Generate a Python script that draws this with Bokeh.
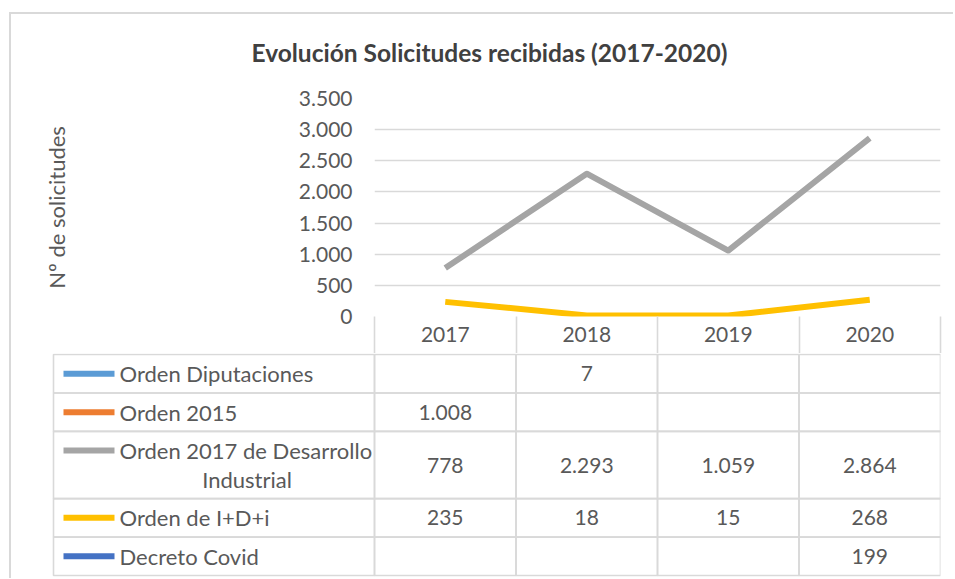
import math
from bokeh.plotting import figure
from bokeh.layouts import column
from bokeh.models import Range1d, FixedTicker
from bokeh.core.properties import value
from bokeh.embed import file_html
from bokeh.resources import INLINE

# ---------------- data ----------------
title_text = "Evolución Solicitudes recibidas (2017-2020)"
y_label = "Nº de solicitudes"
years = ["2017", "2018", "2019", "2020"]
series_names = [
    "Orden Diputaciones",
    "Orden 2015",
    "Orden 2017 de Desarrollo\nIndustrial",
    "Orden de I+D+i",
    "Decreto Covid",
]
orden_diputaciones = [None, 7, None, None]
orden_2015 = [1008, None, None, None]
orden_2017_desarrollo = [778, 2293, 1059, 2864]
orden_idi = [235, 18, 15, 268]
decreto_covid = [None, None, None, 199]
series_values = [orden_diputaciones, orden_2015, orden_2017_desarrollo, orden_idi, decreto_covid]
series_colors = ["#5b9bd5", "#ed7d31", "#a5a5a5", "#ffc000", "#4472c4"]
y_ticks = [0, 500, 1000, 1500, 2000, 2500, 3000, 3500]


def fmt(v):
    return f"{v:,}".replace(",", ".")


# ---------------- style / layout ----------------
FONT = "Lato"
TXT = "#595959"
TITLE_C = "#404040"
GRID_C = "#d9d9d9"
W = 953
LEFT_TOP = 374          # chart frame left (px)
RIGHT = 13
TOP_BORDER = 98
FRAME_H = 218
HEADER_H = 37
TOP_H = TOP_BORDER + FRAME_H + HEADER_H
BOT_H = 225
PX_PER_COL = (W - LEFT_TOP - RIGHT) / len(years)

xs = list(range(len(years)))

# ---------------- chart (with year header as x axis) ----------------
p = figure(width=W, height=TOP_H, x_range=Range1d(-0.5, len(years) - 0.5),
           y_range=Range1d(y_ticks[0], y_ticks[-1]),
           toolbar_location=None, output_backend="svg",
           min_border_left=LEFT_TOP, min_border_right=RIGHT,
           min_border_top=TOP_BORDER, min_border_bottom=HEADER_H,
           border_fill_color=None, background_fill_color=None,
           frame_align=False)
p.outline_line_color = None
p.xgrid.visible = False
p.ygrid.ticker = FixedTicker(ticks=y_ticks)
p.ygrid.grid_line_color = GRID_C
p.ygrid.grid_line_width = 1.3

p.title.text = title_text
p.title.align = "left"
p.title.offset = 251 - LEFT_TOP
p.title.text_font = FONT
p.title.text_font_size = "24.5px"
p.title.text_font_style = "bold"
p.title.text_color = TITLE_C
p.title.standoff = 63

yax = p.yaxis[0]
yax.ticker = FixedTicker(ticks=y_ticks)
yax.major_label_overrides = {t: fmt(t) for t in y_ticks}
yax.axis_line_color = None
yax.major_tick_line_color = None
yax.minor_tick_line_color = None
yax.major_tick_out = 0
yax.major_label_standoff = 22
yax.major_label_text_font = FONT
yax.major_label_text_font_size = "21px"
yax.major_label_text_color = TXT
yax.axis_label = y_label
yax.axis_label_text_font = FONT
yax.axis_label_text_font_size = "22px"
yax.axis_label_text_font_style = "normal"
yax.axis_label_text_color = TXT
yax.axis_label_standoff = 226

xax = p.xaxis[0]
xax.ticker = FixedTicker(ticks=xs, minor_ticks=[i - 0.5 for i in range(len(years) + 1)])
xax.major_label_overrides = {i: y for i, y in enumerate(years)}
xax.axis_line_color = None
xax.major_tick_line_color = None
xax.major_tick_out = 0
xax.major_tick_in = 0
xax.minor_tick_line_color = GRID_C
xax.minor_tick_line_width = 1.6
xax.minor_tick_out = HEADER_H
xax.minor_tick_in = 0
xax.major_label_standoff = 10 - HEADER_H
xax.major_label_text_font = FONT
xax.major_label_text_font_size = "21px"
xax.major_label_text_color = TXT

for vals, col in zip(series_values, series_colors):
    ys = [math.nan if v is None else v for v in vals]
    p.line(xs, ys, line_color=col, line_width=6, line_join="round")

# ---------------- data table body ----------------
LEFT_BOT = 51
TABLE_LEFT_PX = 53
label_w = (LEFT_TOP - TABLE_LEFT_PX) / PX_PER_COL
x_start = -0.5 - (LEFT_TOP - LEFT_BOT) / PX_PER_COL
x_end = -0.5 + (W - RIGHT - LEFT_TOP) / PX_PER_COL

n_lines = [len(s.split("\n")) for s in series_names]
row_h = [1.0 + 0.75 * (n - 1) for n in n_lines]
total_rows = sum(row_h)
ROW_PX = 222 / total_rows
tops = [sum(row_h[:i]) for i in range(len(row_h))]
centers = [tp + h / 2 for tp, h in zip(tops, row_h)]

t = figure(width=W, height=BOT_H, x_range=Range1d(x_start, x_end),
           y_range=Range1d(total_rows + 3 / ROW_PX, -1 / ROW_PX), x_axis_location=None,
           y_axis_location=None, toolbar_location=None, output_backend="svg",
           min_border_left=LEFT_BOT, min_border_right=RIGHT,
           min_border_top=0, min_border_bottom=0,
           border_fill_color=None, background_fill_color=None,
           frame_align=False)
t.outline_line_color = None
t.grid.visible = False

label_cx = -0.5 - label_w / 2
rx, ry, rw, rh = [], [], [], []
for r in range(len(series_names)):
    c = centers[r]
    h = row_h[r]
    rx.append(label_cx); ry.append(c); rw.append(label_w); rh.append(h)
    for i in xs:
        rx.append(i); ry.append(c); rw.append(1); rh.append(h)
t.rect(x=rx, y=ry, width=rw, height=rh, fill_color=None, line_color=GRID_C, line_width=1.6)

# values
vx, vy, vt = [], [], []
for r, vals in enumerate(series_values):
    for i, v in enumerate(vals):
        if v is not None:
            vx.append(i); vy.append(centers[r]); vt.append(fmt(v))
t.text(x=vx, y=vy, text=vt, text_align="center", text_baseline="middle",
       text_font=value(FONT), text_font_size="21px", text_color=TXT)

# legend keys + labels
lbl_left = -0.5 - label_w
key_x0 = lbl_left + 10 / PX_PER_COL
key_x1 = lbl_left + 61 / PX_PER_COL
txt_x = lbl_left + 66 / PX_PER_COL
LINE_GAP = 29 / ROW_PX
for r, (name, col) in enumerate(zip(series_names, series_colors)):
    lines = name.split("\n")
    c = centers[r]
    y0 = c - LINE_GAP * (len(lines) - 1) / 2
    t.segment(x0=[key_x0], y0=[y0], x1=[key_x1], y1=[y0], line_color=col, line_width=6)
    t.text(x=[txt_x], y=[y0], text=[lines[0]], text_align="left", text_baseline="middle",
           text_font=value(FONT), text_font_size="22px", text_color=TXT)
    if len(lines) > 1:
        mid = (txt_x + (-0.5)) / 2
        t.text(x=[mid] * (len(lines) - 1),
               y=[y0 + LINE_GAP * k for k in range(1, len(lines))],
               text=lines[1:], text_align="center", text_baseline="middle",
               text_font=value(FONT), text_font_size="22px", text_color=TXT)

bg = ("linear-gradient(#d9d9d9,#d9d9d9) 9px 12px / 2px calc(100% - 12px) no-repeat, "
      "linear-gradient(#d9d9d9,#d9d9d9) 9px 12px / calc(100% - 9px) 2px no-repeat, #ffffff")
layout = column(p, t, spacing=0, styles={"background": bg})

open("out.html", "w").write(file_html(layout, INLINE))
